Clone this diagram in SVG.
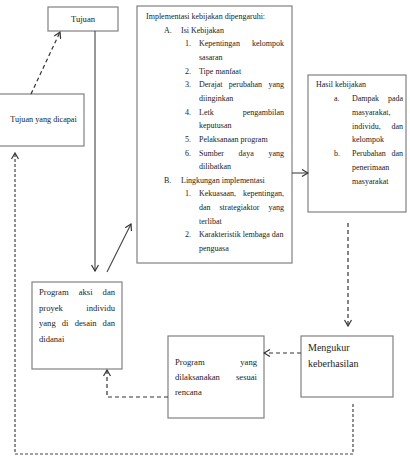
<svg xmlns="http://www.w3.org/2000/svg" width="410" height="458" viewBox="0 0 410 458">
<defs>
<style>
.box{fill:#fff;stroke:#808080;stroke-width:1.2}
.t{font-family:"Liberation Serif","Times New Roman",serif;font-size:8px;fill:#222}
.t9{font-family:"Liberation Serif","Times New Roman",serif;font-size:8.6px;fill:#222}
.t10{font-family:"Liberation Serif","Times New Roman",serif;font-size:10px;fill:#222}
.e{text-anchor:end}
.solid{fill:none;stroke:#444;stroke-width:1.1}
.dash{fill:none;stroke:#333;stroke-width:1.2;stroke-dasharray:4,3}
.dot{fill:none;stroke:#444;stroke-width:1.2;stroke-dasharray:3,2}
</style>
<marker id="ah" viewBox="0 0 8 8" markerWidth="8" markerHeight="8" refX="7" refY="4" orient="auto" markerUnits="userSpaceOnUse">
<path d="M1,0.5 L7,4 L1,7.5" fill="none" stroke="#333" stroke-width="1.2"/>
</marker>
</defs>

<g id="tujuan">
<rect class="box" x="48" y="7" width="70" height="24"/>
<text class="t" x="83" y="22" text-anchor="middle" style="font-size:8.6px">Tujuan</text>
</g>

<g id="tujuan-dicapai">
<rect class="box" x="-1" y="94" width="85" height="52"/>
<text class="t" x="43.5" y="122" text-anchor="middle" style="font-size:8.2px">Tujuan yang dicapai</text>
</g>

<g id="implementasi">
<rect class="box" x="137" y="6" width="155" height="257"/>
<text class="t" x="146" y="19">Implementasi kebijakan dipengaruhi:</text>
<text class="t" x="164" y="32.6">A.</text><text class="t" x="181" y="32.6">Isi Kebijakan</text>
<text class="t" x="185" y="46.3">1.</text><text class="t" x="199" y="46.3">Kepentingan</text><text class="t e" x="284" y="46.3">kelompok</text>
<text class="t" x="199" y="59.9">sasaran</text>
<text class="t" x="185" y="73.6">2.</text><text class="t" x="199" y="73.6">Tipe manfaat</text>
<text class="t" x="185" y="87.2">3.</text><text class="t" x="199" y="87.2">Derajat</text><text class="t" x="228.8" y="87.2">perubahan</text><text class="t e" x="284" y="87.2">yang</text>
<text class="t" x="199" y="100.9">diinginkan</text>
<text class="t" x="185" y="114.5">4.</text><text class="t" x="199" y="114.5">Letk</text><text class="t e" x="284" y="114.5">pengambilan</text>
<text class="t" x="199" y="128.2">keputusan</text>
<text class="t" x="185" y="141.8">5.</text><text class="t" x="199" y="141.8">Pelaksanaan program</text>
<text class="t" x="185" y="155.5">6.</text><text class="t" x="199" y="155.5">Sumber</text><text class="t" x="238.6" y="155.5">daya</text><text class="t e" x="284" y="155.5">yang</text>
<text class="t" x="199" y="169.1">dilibatkan</text>
<text class="t" x="164" y="182.8">B.</text><text class="t" x="181" y="182.8">Lingkungan implementasi</text>
<text class="t" x="185" y="196.4">1.</text><text class="t" x="199" y="196.4">Kekuasaan,</text><text class="t e" x="284" y="196.4">kepentingan,</text>
<text class="t" x="199" y="210.1">dan</text><text class="t" x="219.5" y="210.1">strategiaktor</text><text class="t e" x="284" y="210.1">yang</text>
<text class="t" x="199" y="223.7">terlibat</text>
<text class="t" x="185" y="237.4">2.</text><text class="t" x="199" y="237.4">Karakteristik lembaga dan</text>
<text class="t" x="199" y="251">penguasa</text>
</g>

<g id="hasil">
<rect class="box" x="308" y="75" width="98" height="137"/>
<text class="t" x="316" y="87">Hasil kebijakan</text>
<text class="t" x="334" y="101">a.</text><text class="t" x="352" y="101">Dampak</text><text class="t e" x="403" y="101">pada</text>
<text class="t" x="352" y="115">masyarakat,</text>
<text class="t" x="352" y="128.5">individu,</text><text class="t e" x="403" y="128.5">dan</text>
<text class="t" x="352" y="142">kelompok</text>
<text class="t" x="334" y="156">b.</text><text class="t" x="352" y="156">Perubahan</text><text class="t e" x="403" y="156">dan</text>
<text class="t" x="352" y="170">penerimaan</text>
<text class="t" x="352" y="184">masyarakat</text>
</g>

<g id="program-aksi">
<rect class="box" x="32" y="282" width="90" height="87"/>
<text class="t9" x="39" y="295">Program</text><text class="t9" x="78.7" y="295">aksi</text><text class="t9 e" x="115" y="295">dan</text>
<text class="t9" x="39" y="310.5">proyek</text><text class="t9 e" x="115" y="310.5">individu</text>
<text class="t9" x="39" y="326">yang</text><text class="t9" x="61.8" y="326">di</text><text class="t9" x="74.7" y="326">desain</text><text class="t9 e" x="115" y="326">dan</text>
<text class="t9" x="39" y="341.5">didanai</text>
</g>

<g id="program-dilaksanakan">
<rect class="box" x="168" y="336" width="96" height="82"/>
<text class="t9" x="175" y="365">Program</text><text class="t9 e" x="257" y="365">yang</text>
<text class="t9" x="175" y="380">dilaksanakan</text><text class="t9 e" x="257" y="380">sesuai</text>
<text class="t9" x="175" y="395">rencana</text>
</g>

<g id="mengukur">
<rect class="box" x="301" y="336" width="92" height="61"/>
<text class="t10" x="308" y="350.5">Mengukur</text>
<text class="t10" x="308" y="366.5">keberhasilan</text>
</g>

<g id="connectors">
<line class="solid" x1="95" y1="31" x2="95" y2="271" marker-end="url(#ah)"/>
<line class="solid" x1="107" y1="272" x2="131" y2="224" marker-end="url(#ah)"/>
<line class="solid" x1="292" y1="173" x2="308" y2="173" marker-end="url(#ah)"/>
<line class="dash" x1="31" y1="94" x2="60" y2="32" marker-end="url(#ah)"/>
<line class="dash" x1="348" y1="223" x2="348" y2="326" marker-end="url(#ah)"/>
<line class="dash" x1="301" y1="353" x2="264" y2="353" marker-end="url(#ah)"/>
<polyline class="dash" points="168,397 107,397 107,370" marker-end="url(#ah)"/>
<polyline class="dot" points="353,404 353,454 15,454 15,153" marker-end="url(#ah)"/>
</g>
</svg>
